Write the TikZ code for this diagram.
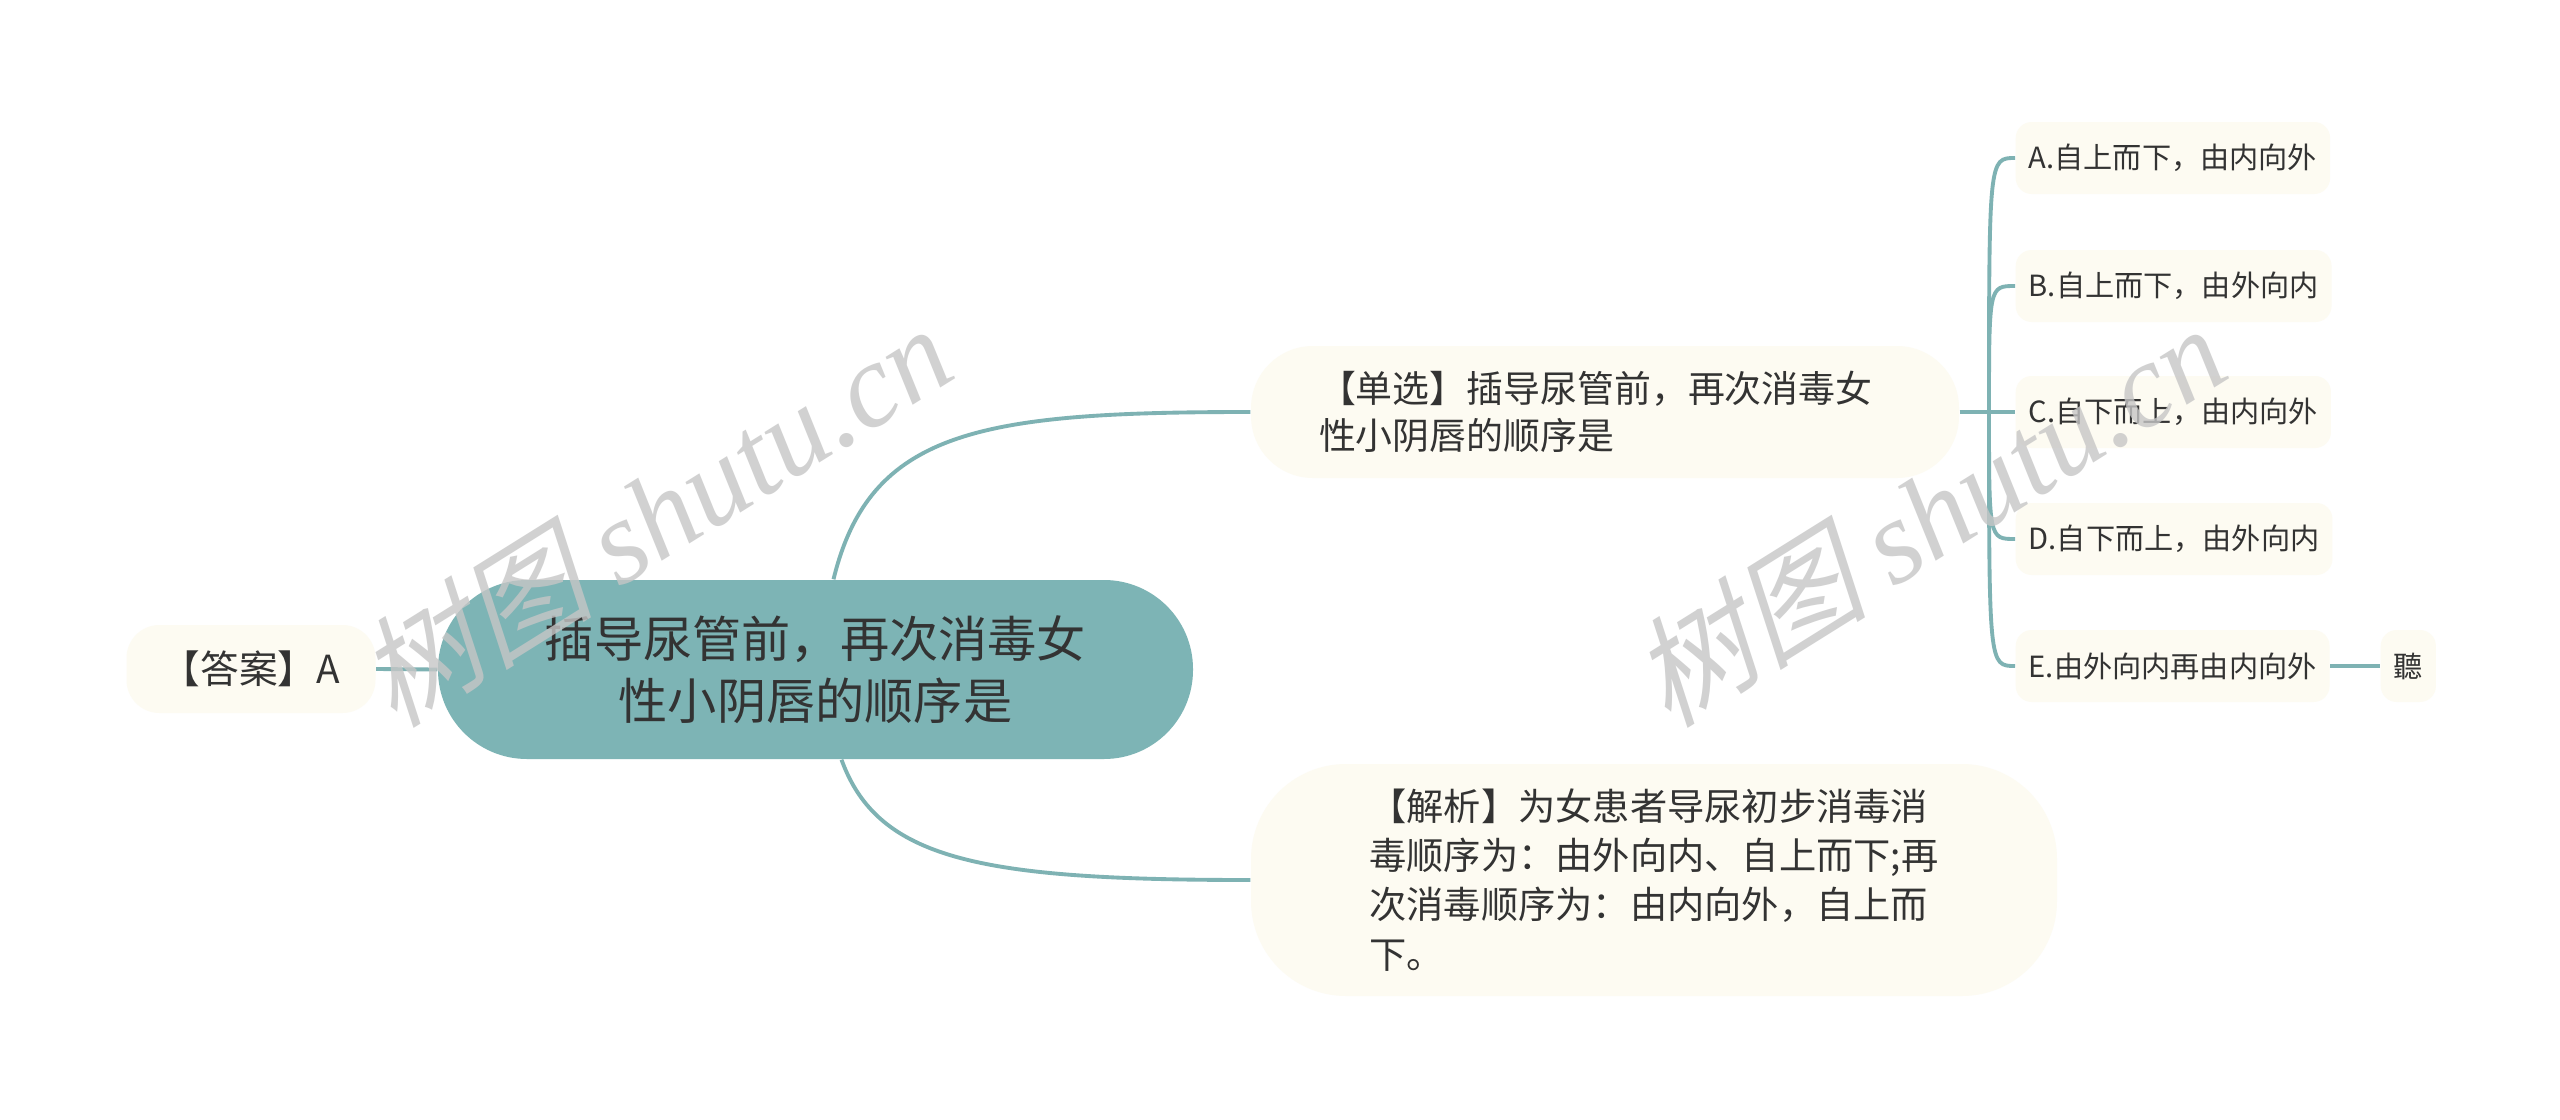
\documentclass[tikz,border=0pt]{standalone}
\usepackage{fontspec}
\setmainfont{Noto Sans CJK SC}
\newfontfamily\wmcjk{Noto Sans CJK SC}[FakeSlant=0.25]
\newfontfamily\wmlatin{Liberation Serif}
\usepackage{tikz}

\definecolor{topicteal}{HTML}{7DB4B5}
\definecolor{linkteal}{HTML}{7EB2B3}
\definecolor{cream}{HTML}{FDFBF2}
\definecolor{ink}{HTML}{333333}

\tikzset{
    link/.style={draw=linkteal, line width=1.1pt},
    topic/.style={fill=topicteal, draw=none, text=ink, align=center,
        minimum width=7.55cm, minimum height=1.79cm, rounded corners=0.89cm,
        font=\fontsize{14}{17.6}\selectfont},
    bubble/.style={fill=cream, draw=none, text=ink, align=left},
    optbox/.style={bubble, anchor=west, rounded corners=0.16cm,
        minimum height=0.72cm, inner xsep=3.7pt,
        font=\fontsize{8.3}{10}\selectfont},
    wmark/.style={text=gray!45, opacity=0.8, rotate=32,
        font=\fontsize{34}{40}\selectfont}
}

\begin{document}
\begin{tikzpicture}
                \useasboundingbox
                    (0,0) rectangle (25.6,-11.2);
                \fill[white]
                    (0,0) rectangle (25.6,-11.2);
                \node[topic] (root)
                    at (8.155,-6.695) {插导尿管前，再次消毒女\\性小阴唇的顺序是};
                \node[bubble, minimum width=2.49cm, minimum height=0.88cm,
                    rounded corners=0.33cm, font=\fontsize{11}{13}\selectfont] (answer)
                    at (2.51,-6.69) {【答案】A};
                \node[bubble, minimum width=7.08cm, minimum height=1.32cm, text width=5.72cm,
                    rounded corners=0.62cm, font=\fontsize{10.5}{13.4}\selectfont] (single)
                    at (16.05,-4.12) {【单选】插导尿管前，再次消毒女\\性小阴唇的顺序是};
                \node[bubble, minimum width=8.06cm, minimum height=2.32cm,
                    rounded corners=0.95cm, font=\fontsize{10.6}{14}\selectfont] (explain)
                    at (16.54,-8.80) {【解析】为女患者导尿初步消毒消\\毒顺序为：由外向内、自上而下;再\\次消毒顺序为：由内向外，自上而\\下。};
                \node[optbox] (optA)
                    at (20.15,-1.58) {A.自上而下，由内向外};
                \node[optbox] (optB)
                    at (20.15,-2.86) {B.自上而下，由外向内};
                \node[optbox] (optC)
                    at (20.15,-4.12) {C.自下而上，由内向外};
                \node[optbox] (optD)
                    at (20.15,-5.39) {D.自下而上，由外向内};
                \node[optbox] (optE)
                    at (20.15,-6.66) {E.由外向内再由内向外};
                \node[optbox] (ting)
                    at (23.80,-6.66) {聽};
                \coordinate (fork)
                    at (19.89,-4.12);
                \path[link]
                    (answer.east) -- (root.west);
                \path[link]
                    ([xshift=1.8mm]root.north) .. controls (8.70,-4.30) and (9.80,-4.12) .. (single.west);
                \path[link]
                    ([xshift=2.6mm]root.south) .. controls (8.78,-8.60) and (9.80,-8.80) .. (explain.west);
                \path[link]
                    (single.east) -- (fork);
                \foreach \opt in {optA,optB,optC,optD,optE}
                    \path[link] (fork) .. controls (fork |- \opt.west) .. (\opt.west);
                \path[link]
                    (optE.east) -- (ting.west);
                \node[wmark] (wmleft)
                    at (6.53,-5.14) {{\wmcjk 树图} {\wmlatin\itshape shutu.cn}};
                \node[wmark] (wmright)
                    at (19.27,-5.14) {{\wmcjk 树图} {\wmlatin\itshape shutu.cn}};
            \end{tikzpicture}
\end{document}
